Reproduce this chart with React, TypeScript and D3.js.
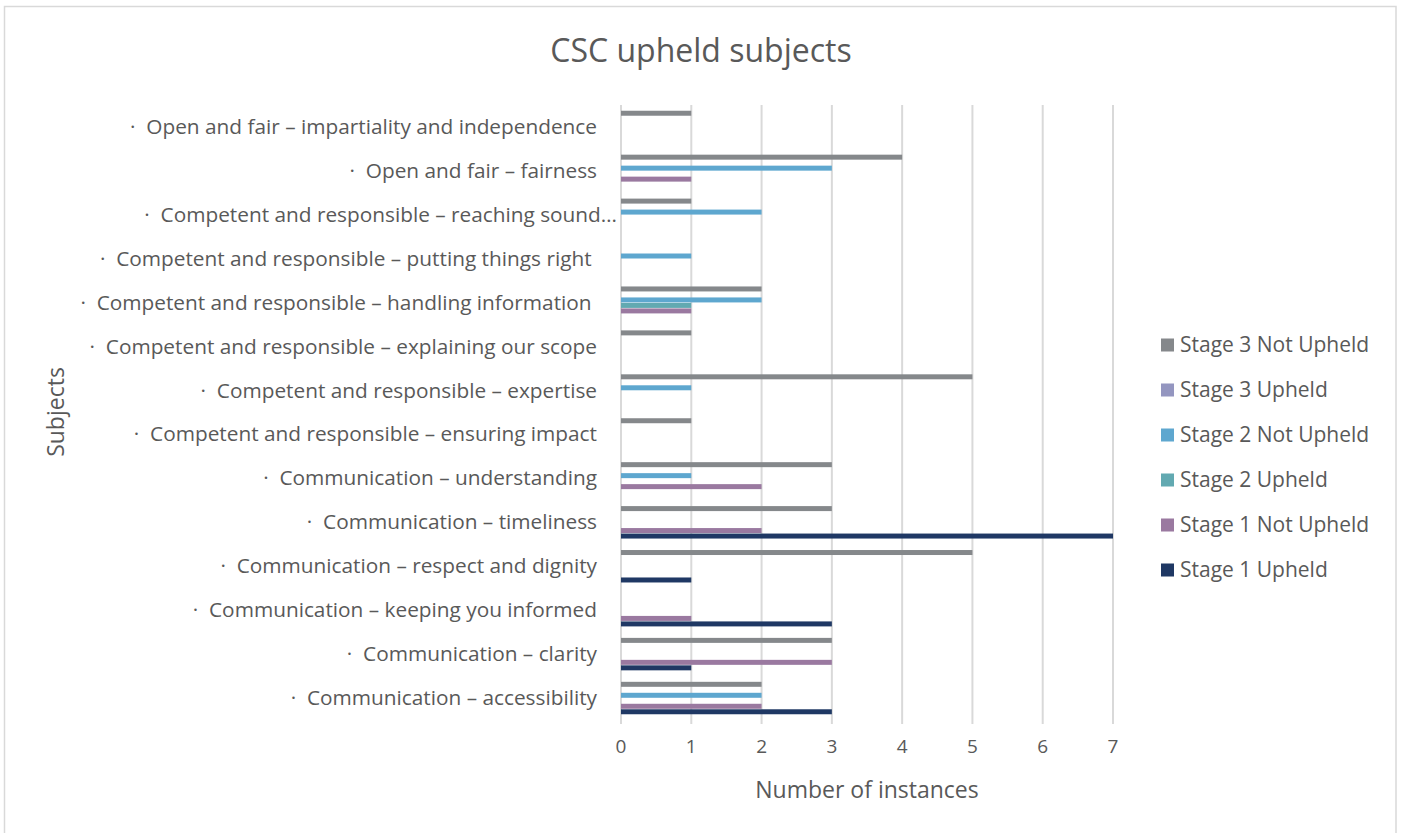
import React from "react";
import * as d3 from "d3";

const categories = [
  "·  Communication – accessibility",
  "·  Communication – clarity",
  "·  Communication – keeping you informed",
  "·  Communication – respect and dignity",
  "·  Communication – timeliness",
  "·  Communication – understanding",
  "·  Competent and responsible – ensuring impact",
  "·  Competent and responsible – expertise",
  "·  Competent and responsible – explaining our scope",
  "·  Competent and responsible – handling information ",
  "·  Competent and responsible – putting things right ",
  "·  Competent and responsible – reaching sound…",
  "·  Open and fair – fairness",
  "·  Open and fair – impartiality and independence",
];

const stage1Upheld = [3, 1, 3, 1, 7, 0, 0, 0, 0, 0, 0, 0, 0, 0];
const stage1NotUpheld = [2, 3, 1, 0, 2, 2, 0, 0, 0, 1, 0, 0, 1, 0];
const stage2Upheld = [0, 0, 0, 0, 0, 0, 0, 0, 0, 1, 0, 0, 0, 0];
const stage2NotUpheld = [2, 0, 0, 0, 0, 1, 0, 1, 0, 2, 1, 2, 3, 0];
const stage3Upheld = [0, 0, 0, 0, 0, 0, 0, 0, 0, 0, 0, 0, 0, 0];
const stage3NotUpheld = [2, 3, 0, 5, 3, 3, 1, 5, 1, 2, 0, 1, 4, 1];

const seriesNames = [
  "Stage 3 Not Upheld",
  "Stage 3 Upheld",
  "Stage 2 Not Upheld",
  "Stage 2 Upheld",
  "Stage 1 Not Upheld",
  "Stage 1 Upheld",
];
const seriesValues = [
  stage3NotUpheld,
  stage3Upheld,
  stage2NotUpheld,
  stage2Upheld,
  stage1NotUpheld,
  stage1Upheld,
];
const seriesColors = ["#85888b", "#9496c0", "#5ea7cf", "#62a9b1", "#9a79a0", "#1f3864"];

const xTicks = [0, 1, 2, 3, 4, 5, 6, 7];

const FONT = "'Open Sans', Lato, sans-serif";
const TEXT = "#595959";

export default function App() {
  const W = 1401;
  const H = 833;
  const plotLeft = 621;
  const plotRight = 1113;
  const plotTop = 105;
  const plotBottom = 720;

  const x = d3.scaleLinear().domain([0, 7]).range([plotLeft, plotRight]);
  const y0 = d3
    .scaleBand<string>()
    .domain([...categories].reverse())
    .range([plotTop, plotBottom])
    .paddingInner(0.25)
    .paddingOuter(0.125);
  const y1 = d3
    .scaleBand<string>()
    .domain(seriesNames)
    .range([0, y0.bandwidth()]);

  return (
    <svg
      width={W}
      height={H}
      style={{ position: "absolute", left: 0, top: 0, fontFamily: FONT }}
    >
      <rect x={0} y={0} width={W} height={H} fill="#fff" />
      <rect x={4.5} y={6.5} width={1391.5} height={840} fill="#fff" stroke="#d9d9d9" strokeWidth={1.5} />
      <text x={701} y={62} textAnchor="middle" fontSize={32} fill={TEXT}>
        CSC upheld subjects
      </text>

      {xTicks.map((t) => (
        <g key={t}>
          <line x1={x(t)} x2={x(t)} y1={plotTop} y2={plotBottom + 4} stroke="#d9d9d9" strokeWidth={2} />
          <text x={x(t)} y={753} textAnchor="middle" fontSize={19} fill={TEXT}>
            {t}
          </text>
        </g>
      ))}

      {categories.map((c, ci) => (
        <g key={c}>
          <text
            x={c.endsWith("…") ? 617 : 597}
            y={(y0(c) ?? 0) + y0.bandwidth() / 2 + 7}
            textAnchor="end"
            fontSize={20.8}
            fill={TEXT}
            style={{ whiteSpace: "pre" }}
          >
            {c}
          </text>
          {seriesNames.map((s, si) => {
            const v = seriesValues[si][ci];
            if (!v) return null;
            return (
              <rect
                key={s}
                x={x(0)}
                y={(y0(c) ?? 0) + (y1(s) ?? 0) + 0.25}
                width={x(v) - x(0)}
                height={y1.bandwidth() - 0.5}
                fill={seriesColors[si]}
              />
            );
          })}
        </g>
      ))}

      <text x={867} y={798} textAnchor="middle" fontSize={23} fill={TEXT}>
        Number of instances
      </text>
      <text
        transform={`translate(64,412) rotate(-90)`}
        textAnchor="middle"
        fontSize={23}
        fill={TEXT}
      >
        Subjects
      </text>

      {seriesNames.map((s, i) => (
        <g key={s} transform={`translate(1161,${345 + i * 45})`}>
          <rect x={0} y={-6.5} width={13} height={13} fill={seriesColors[i]} />
          <text x={19} y={7} fontSize={21} fill={TEXT}>
            {s}
          </text>
        </g>
      ))}
    </svg>
  );
}
